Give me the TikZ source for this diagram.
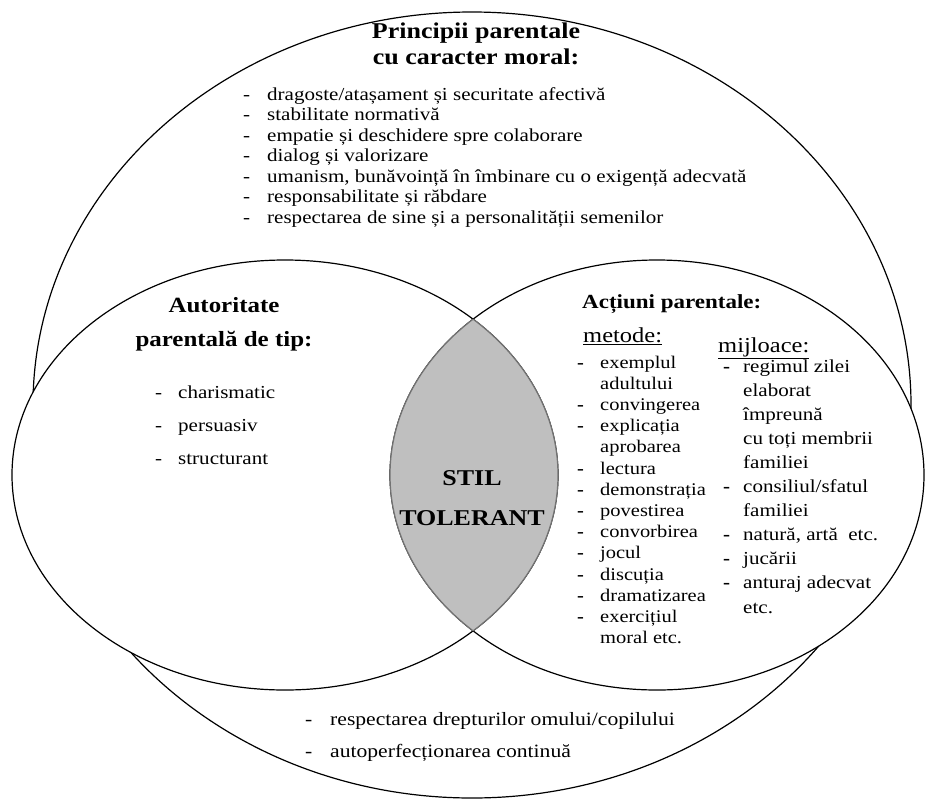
\documentclass[tikz,border=0pt]{standalone}
\usepackage{fontspec}
\setmainfont{Liberation Serif}[FakeStretch=1.15]
\usepackage{tikz}
\usetikzlibrary{positioning}
\definecolor{LensGray}{RGB}{191,191,191}
\definecolor{LensEdge}{RGB}{115,115,115}

\tikzset{
	ring/.style={draw=black, line width=1.2pt},
	lensedge/.style={draw=LensEdge, line width=1.2pt},
	txt/.style={inner sep=0pt, anchor=base west},
	ctxt/.style={inner sep=0pt, anchor=base},
	body/.style={txt, font=\fontsize{18.3}{20}\selectfont},
	head/.style={ctxt, font=\fontsize{21.7}{24}\selectfont\bfseries}
}

\begin{document}
\begin{tikzpicture}[x=1pt, y=-1pt]
	\useasboundingbox (0,0) rectangle (925,800);
	\coordinate (bigc) at (472,405);
	\coordinate (lc) at (285,475);
	\coordinate (rc) at (657,475);
	% outer oval
	\draw[ring] (bigc) ellipse [x radius=439pt, y radius=393pt];
	% two inner ovals
	\fill[white] (lc) ellipse [x radius=273pt, y radius=215pt];
	\fill[white] (rc) ellipse [x radius=267pt, y radius=215pt];
	\draw[ring] (lc) ellipse [x radius=273pt, y radius=215pt];
	\draw[ring] (rc) ellipse [x radius=267pt, y radius=215pt];
	% lens
	\begin{scope}
		\clip (lc) ellipse [x radius=273pt, y radius=215pt];
		\fill[LensGray] (rc) ellipse [x radius=267pt, y radius=215pt];
		\draw[lensedge] (rc) ellipse [x radius=267pt, y radius=215pt];
	\end{scope}
	\begin{scope}
		\clip (rc) ellipse [x radius=267pt, y radius=215pt];
		\draw[lensedge] (lc) ellipse [x radius=273pt, y radius=215pt];
	\end{scope}

	% top oval
	\node[head, font=\fontsize{22.6}{24}\selectfont\bfseries] (principii) at (476,39) {Principii parentale};
	\node[head, font=\fontsize{22.6}{24}\selectfont\bfseries] (caracter) at (476,64) {cu caracter moral:};
	\foreach \t [count=\i from 0] in {dragoste/atașament și securitate afectivă,
		stabilitate normativă, empatie și deschidere spre colaborare, dialog și valorizare,
		{umanism, bunăvoință în îmbinare cu o exigență adecvată}, responsabilitate și răbdare,
		respectarea de sine și a personalității semenilor}{
		\node[body] (moraldash\i) at (243,100+20.5*\i) {-};
		\node[body] (moral\i) at (267,100+20.5*\i) {\t};
	}

	% left oval
	\node[head] (autoritate) at (224,312) {Autoritate};
	\node[head] (tip) at (224,346) {parentală de tip:};
	\foreach \t [count=\i from 0] in {charismatic, persuasiv, structurant}{
		\node[body] (tipdash\i) at (155,398+33*\i) {-};
		\node[body] (tip\i) at (178,398+33*\i) {\t};
	}

	\node[ctxt, font=\fontsize{22.6}{24}\selectfont\bfseries] (stil) at (472,485) {STIL};
	\node[ctxt, font=\fontsize{22.6}{24}\selectfont\bfseries] (tolerant) at (472,525) {TOLERANT};

	% right oval
	\node[txt, font=\fontsize{20}{22}\selectfont\bfseries] (actiuni) at (582,308) {Acțiuni parentale:};
	\node[txt, font=\fontsize{21.3}{24}\selectfont] (metode) at (583,342) {\underline{metode:}};
	\node[txt, font=\fontsize{21.3}{24}\selectfont] (mijloace) at (718,352) {\underline{mijloace:}};
	\foreach \d/\t [count=\i from 0] in {-/exemplul, /adultului, -/convingerea, -/explicația,
		/aprobarea, -/lectura, -/demonstrația, -/povestirea, -/convorbirea, -/jocul,
		-/discuția, -/dramatizarea, -/exercițiul, /moral etc.}{
		\node[body, font=\fontsize{17.8}{20}\selectfont\bfseries] (metdash\i) at (577,368+21.2*\i) {\d};
		\node[body, font=\fontsize{17.8}{20}\selectfont] (met\i) at (600,368+21.2*\i) {\t};
	}
	\foreach \d/\t [count=\i from 0] in {-/regimul zilei, /elaborat, /împreună, /cu toți membrii,
		/familiei, -/{consiliul/sfatul}, /familiei, -/{natură, artă\ \ etc.}, -/jucării,
		-/anturaj adecvat, /etc.}{
		\node[body, font=\fontsize{18.3}{20}\selectfont\bfseries] (mijdash\i) at (723,372+24.1*\i) {\d};
		\node[body] (mij\i) at (743,372+24.1*\i) {\t};
	}

	% bottom of outer oval
	\node[body, font=\fontsize{18.8}{20}\selectfont] (drepturidash) at (305,725) {-};
	\node[body, font=\fontsize{18.8}{20}\selectfont] (drepturi) at (330,725) {respectarea drepturilor omului/copilului};
	\node[body, font=\fontsize{18.8}{20}\selectfont] (perfectiunedash) at (305,757) {-};
	\node[body, font=\fontsize{18.8}{20}\selectfont] (perfectiune) at (330,757) {autoperfecționarea continuă};
\end{tikzpicture}
\end{document}
